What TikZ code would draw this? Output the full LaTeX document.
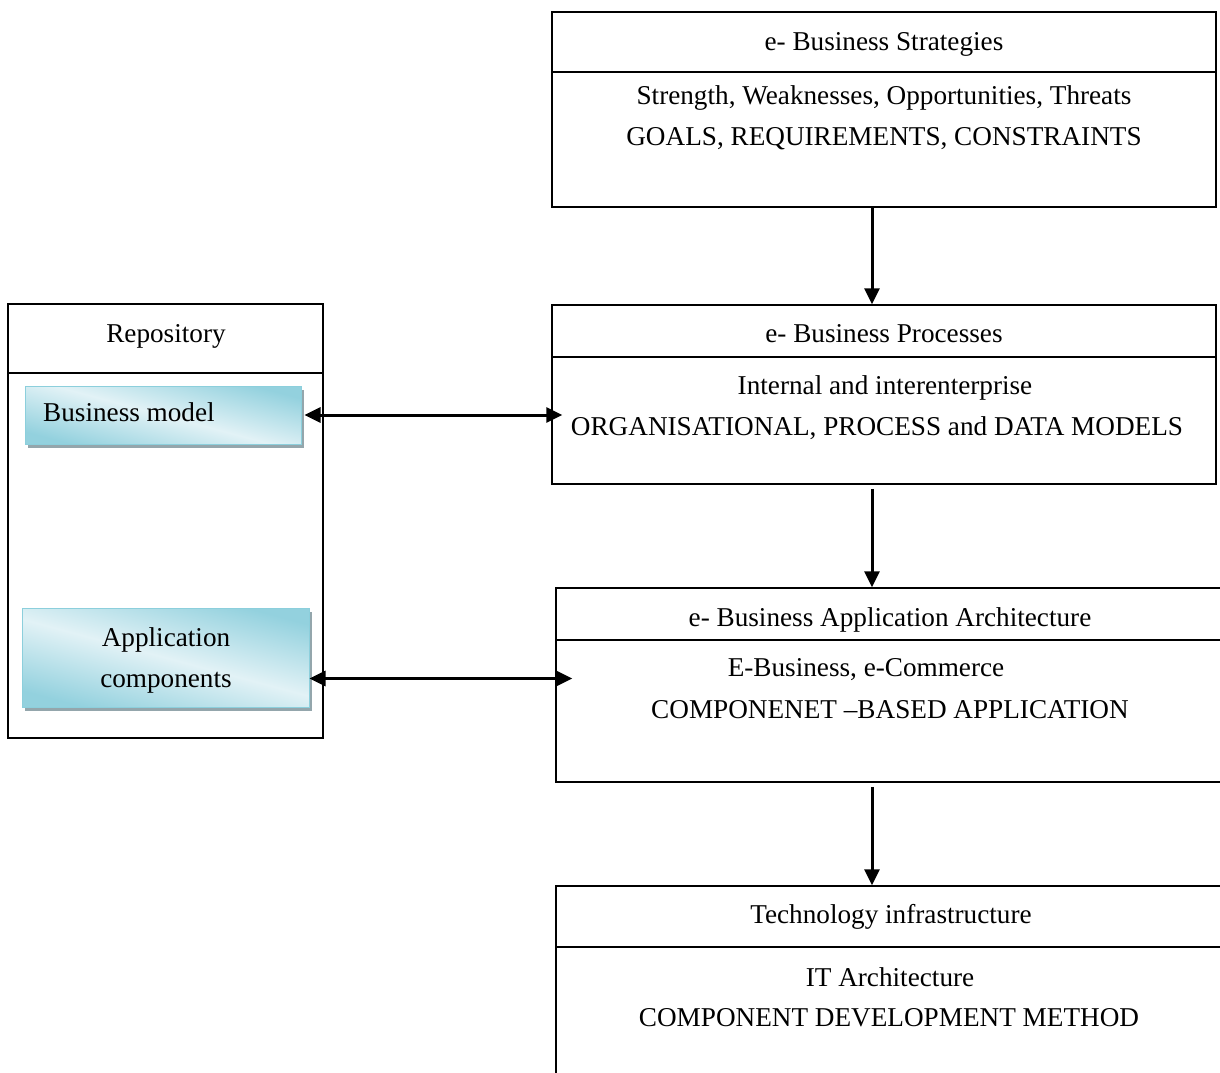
\documentclass[tikz,border=0pt]{standalone}
\usepackage{fontspec}
\setmainfont{Liberation Serif}
\usetikzlibrary{arrows.meta,calc,shadows}
\definecolor{boxedge}{HTML}{8CCFDC}
\definecolor{boxdark}{HTML}{93D1DE}
\definecolor{boxlight}{HTML}{E2F2F6}
\definecolor{shadowgray}{HTML}{94A6AC}

\begin{document}
\begin{tikzpicture}[x=1pt,y=-1pt,
  panel/.style={draw=black, line width=1.5pt, fill=white, rectangle, inner sep=0pt},
  divider/.style={draw=black, line width=1.5pt},
  txt/.style={font=\fontsize{27.2}{40}\selectfont, inner sep=0pt, anchor=base},
  glossy/.style={rectangle, inner sep=0pt, draw=boxedge, line width=1pt,
    top color=boxdark, bottom color=boxdark, middle color=boxlight, shading angle=-15,
    drop shadow={shadow xshift=3pt, shadow yshift=-4pt, fill=shadowgray, opacity=1}},
  flow/.style={line width=3pt, -{Triangle[length=16pt,width=15pt]}},
  both/.style={line width=3pt, {Triangle[length=16pt,width=15pt]}-{Triangle[length=16pt,width=15pt]}}
]
\clip (0,0) rectangle (1220,1072);
\fill[white] (0,0) rectangle (1220,1072);

% right-hand column of layered panels
\node[panel, minimum width=664pt, minimum height=195pt] (strat) at (884,109.5) {};
\draw[divider] (strat.west |- 0,72) -- (strat.east |- 0,72);
\node[txt] (stratT) at (884,50) {e- Business Strategies};
\node[txt] (stratA) at (884,104) {Strength, Weaknesses, Opportunities, Threats};
\node[txt] (stratB) at (884,145) {GOALS, REQUIREMENTS, CONSTRAINTS};

\node[panel, minimum width=664pt, minimum height=179pt] (proc) at (884,394.5) {};
\draw[divider] (proc.west |- 0,357) -- (proc.east |- 0,357);
\node[txt] (procT) at (884,342) {e- Business Processes};
\node[txt] (procA) at (885,394) {Internal and interenterprise};
\node[txt] (procB) at (877,435) {ORGANISATIONAL, PROCESS and DATA MODELS};

\node[panel, minimum width=680pt, minimum height=194pt] (app) at (896,685) {};
\draw[divider] (app.west |- 0,640) -- (app.east |- 0,640);
\node[txt] (appT) at (890,626) {e- Business Application Architecture};
\node[txt] (appA) at (866,676) {E-Business, e-Commerce};
\node[txt] (appB) at (890,718) {COMPONENET –BASED APPLICATION};

\node[panel, minimum width=680pt, minimum height=210pt] (tech) at (896,991) {};
\draw[divider] (tech.west |- 0,947) -- (tech.east |- 0,947);
\node[txt] (techT) at (891,923) {Technology infrastructure};
\node[txt] (techA) at (890,986) {IT Architecture};
\node[txt] (techB) at (889,1026) {COMPONENT DEVELOPMENT METHOD};

% repository on the left
\node[panel, minimum width=315pt, minimum height=434pt] (repo) at (165.5,521) {};
\draw[divider] (repo.west |- 0,373) -- (repo.east |- 0,373);
\node[txt] (repoT) at (166,342) {Repository};

\node[glossy, minimum width=276pt, minimum height=58pt] (bm) at (163,415) {};
\node[txt, anchor=base west] (bmT) at (43,421) {Business model};

\node[glossy, minimum width=287pt, minimum height=99pt] (ac) at (165.5,657.5) {};
\node[txt] (acA) at (166,646) {Application};
\node[txt] (acB) at (166,687) {components};

% connectors
\coordinate (s1) at ([xshift=-12pt]strat.south);
\draw[flow] (s1) -- (s1 |- proc.north);
\coordinate (s2) at ([xshift=-12pt,yshift=-4pt]proc.south);
\draw[flow] (s2) -- (s2 |- app.north);
\coordinate (s3) at ([xshift=-24pt,yshift=-4pt]app.south);
\draw[flow] (s3) -- (s3 |- tech.north);

\coordinate (bmEnd) at ([xshift=11pt]proc.west |- bm.east);
\draw[both] ([xshift=3pt]bm.east) -- (bmEnd);
\coordinate (acStart) at ($(ac.south east)!0.29!(ac.north east)$);
\coordinate (acEnd) at ([xshift=17pt]app.west |- acStart);
\draw[both] (acStart) -- (acEnd);
\end{tikzpicture}
\end{document}
